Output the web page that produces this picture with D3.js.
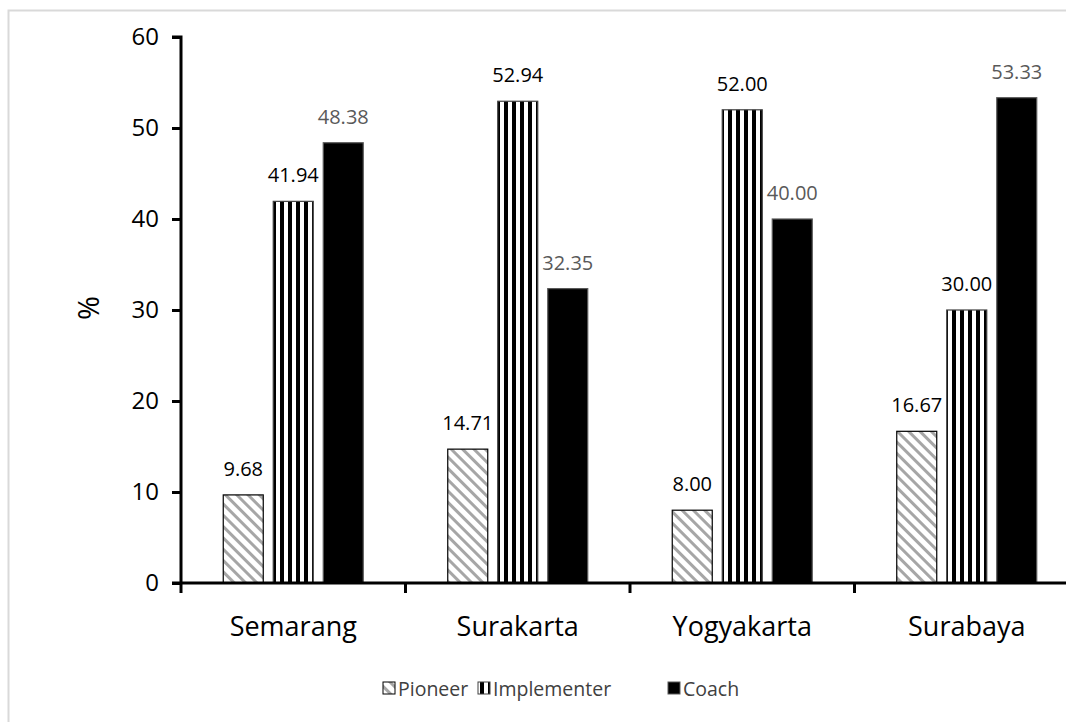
<!DOCTYPE html>
<html><head><meta charset="utf-8">
<script src="https://cdn.jsdelivr.net/npm/d3@7"></script>
<style>body{margin:0;background:#fff;} svg{display:block;font-family:"Open Sans",sans-serif;}</style>
</head><body>
<svg id="c" width="1066" height="722"></svg>
<script>
const categories = ["Semarang", "Surakarta", "Yogyakarta", "Surabaya"];
const seriesNames = ["Pioneer", "Implementer", "Coach"];
const pioneer = [9.68, 14.71, 8.00, 16.67];
const implementer = [41.94, 52.94, 52.00, 30.00];
const coach = [48.38, 32.35, 40.00, 53.33];
const yTicks = [0, 10, 20, 30, 40, 50, 60];

const series = [pioneer, implementer, coach];
const svg = d3.select("#c");
const defs = svg.append("defs");

const p1 = defs.append("pattern").attr("id", "diag").attr("patternUnits", "userSpaceOnUse")
  .attr("width", 8).attr("height", 8).attr("patternTransform", "rotate(-45)");
p1.append("rect").attr("width", 8).attr("height", 8).attr("fill", "#fff");
p1.append("rect").attr("x", 0).attr("y", 0).attr("width", 3).attr("height", 8).attr("fill", "#a6a6a6");

const p2 = defs.append("pattern").attr("id", "vert").attr("patternUnits", "userSpaceOnUse")
  .attr("width", 8).attr("height", 8);
p2.append("rect").attr("width", 8).attr("height", 8).attr("fill", "#fff");
p2.append("rect").attr("x", 0).attr("width", 4).attr("height", 8).attr("fill", "#000");

const fills = ["url(#diag)", "url(#vert)", "#000"];
const strokes = ["#000", "#404040", "#595959"];
const labelColors = ["#000", "#000", "#595959"];

svg.append("rect").attr("x", 8.5).attr("y", 10.5).attr("width", 1100).attr("height", 800)
  .attr("fill", "none").attr("stroke", "#d9d9d9").attr("stroke-width", 2);

const x0 = 181, yBase = 583;
const x = d3.scaleBand().domain(categories).range([x0, x0 + 224.5 * 4]).padding(0);
const y = d3.scaleLinear().domain([0, 60]).range([yBase, 37]);

const barW = 40, gap = 10;
const xs = d3.scaleBand().domain(seriesNames).range([0, 3 * barW + 2 * gap]).paddingInner(gap / (barW + gap));

seriesNames.forEach((s, si) => {
  const g = svg.append("g");
  g.selectAll("rect").data(series[si]).join("rect")
    .attr("x", (d, i) => x(categories[i]) + x.bandwidth() / 2 - 70 + xs(s))
    .attr("y", d => y(d))
    .attr("width", xs.bandwidth())
    .attr("height", d => yBase - y(d))
    .attr("fill", fills[si])
    .attr("stroke", strokes[si]).attr("stroke-width", 1.2);
  g.selectAll("text").data(series[si]).join("text")
    .attr("x", (d, i) => x(categories[i]) + x.bandwidth() / 2 - 70 + xs(s) + xs.bandwidth() / 2)
    .attr("y", d => y(d) - 19)
    .attr("text-anchor", "middle")
    .attr("font-size", 20)
    .attr("fill", labelColors[si])
    .text(d => d.toFixed(2));
});

const yAxis = svg.append("g").attr("transform", `translate(${x0},0)`)
  .call(d3.axisLeft(y).tickValues(yTicks).tickSize(9).tickPadding(13).tickFormat(d3.format("d")));
yAxis.select(".domain").attr("stroke", "#000").attr("stroke-width", 3).attr("d", `M-9,${y(60)}H0V${yBase}`);
yAxis.selectAll(".tick line").attr("stroke", "#000").attr("stroke-width", 3);
yAxis.selectAll(".tick text").attr("font-size", 24).attr("fill", "#000").attr("font-family", "'Open Sans',sans-serif");

const boundaries = categories.map(c => x(c));
const xg = svg.append("g");
xg.append("line").attr("x1", x0 - 9).attr("x2", 1066).attr("y1", yBase).attr("y2", yBase)
  .attr("stroke", "#000").attr("stroke-width", 3);
xg.selectAll("line.t").data(boundaries).join("line").attr("class", "t")
  .attr("x1", d => d).attr("x2", d => d).attr("y1", yBase).attr("y2", yBase + 10)
  .attr("stroke", "#000").attr("stroke-width", 3);
xg.selectAll("text").data(categories).join("text")
  .attr("x", d => x(d) + x.bandwidth() / 2)
  .attr("y", 636)
  .attr("text-anchor", "middle").attr("font-size", 27).attr("fill", "#000")
  .text(d => d);

svg.append("text").attr("transform", "translate(99,308) rotate(-90)")
  .attr("text-anchor", "middle").attr("font-size", 29).attr("fill", "#000").text("%");

const legX = [383, 478, 668];
const leg = svg.append("g");
seriesNames.forEach((s, i) => {
  leg.append("rect").attr("x", legX[i]).attr("y", 682).attr("width", 12).attr("height", 12)
    .attr("fill", fills[i]).attr("stroke", strokes[i]).attr("stroke-width", 1);
  leg.append("text").attr("x", legX[i] + 15).attr("y", 696).attr("font-size", 19.5).attr("fill", "#404040").text(s);
});
</script>
</body></html>
